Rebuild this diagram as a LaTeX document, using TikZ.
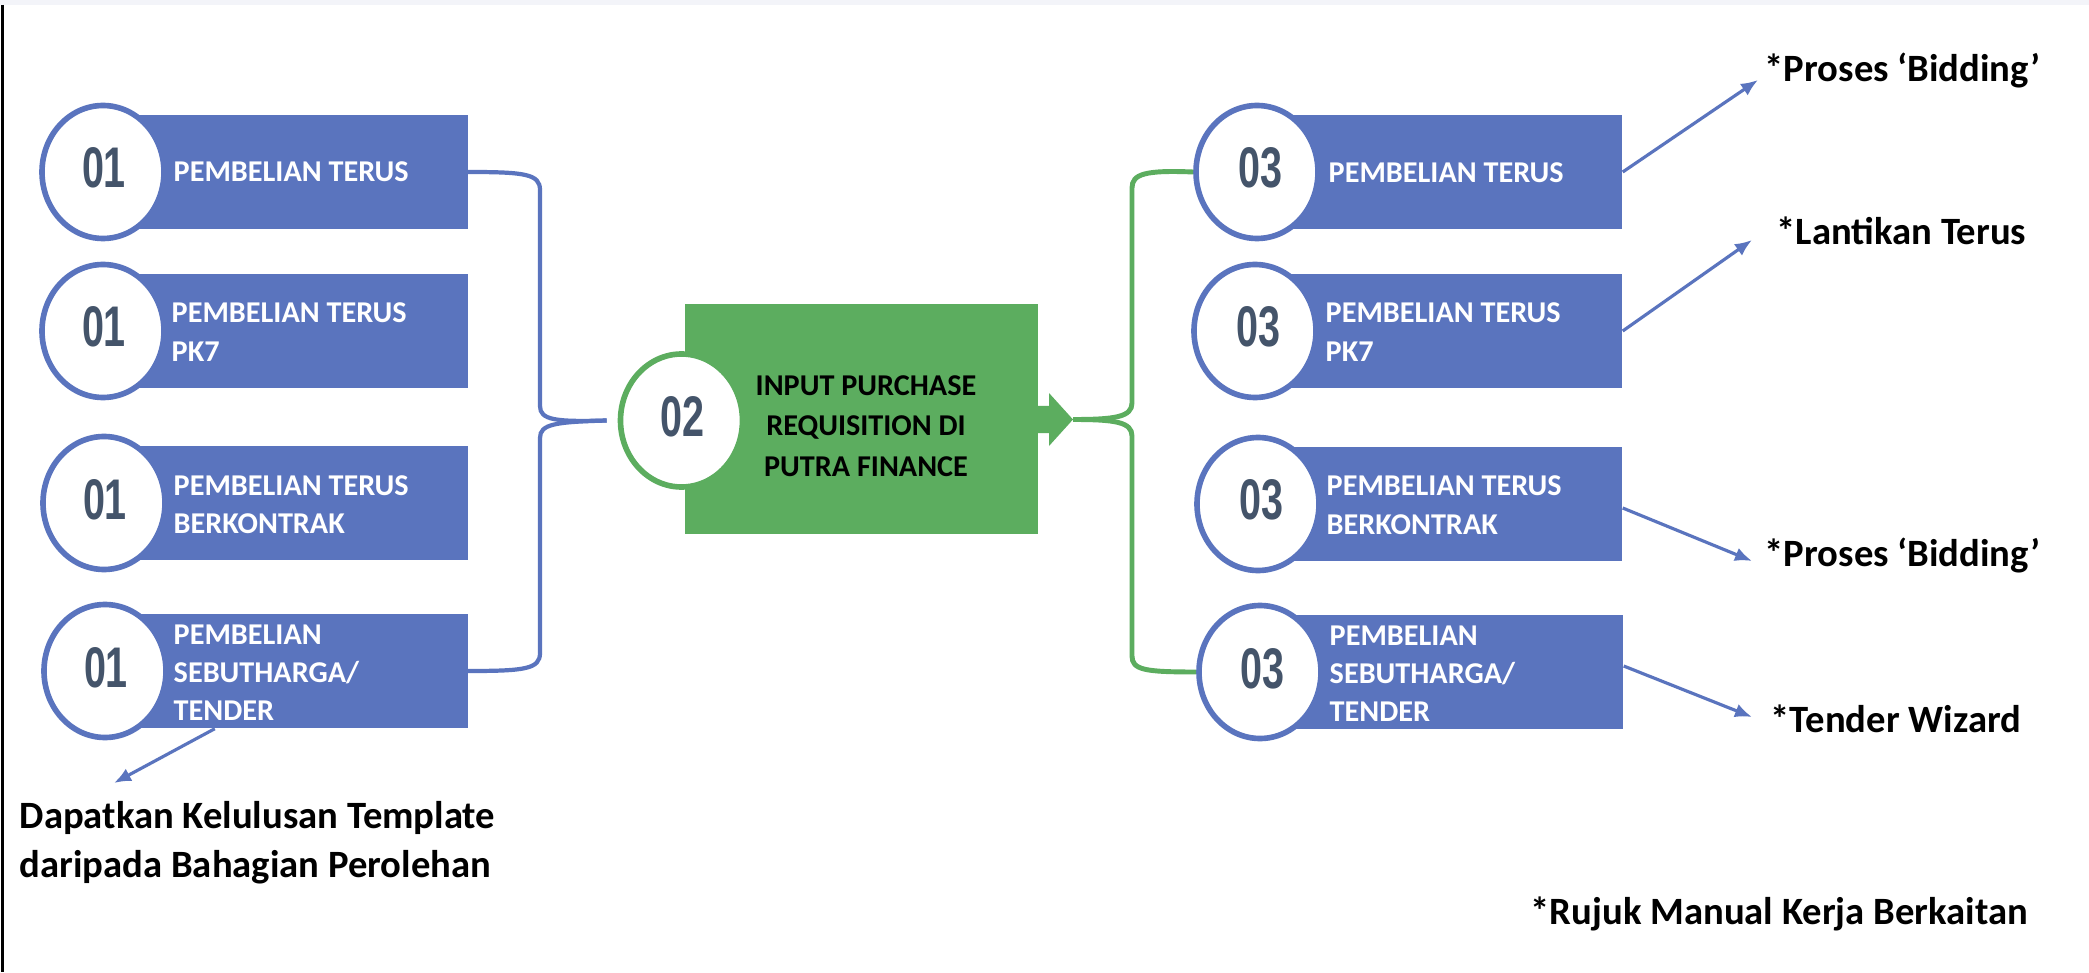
\documentclass[tikz,border=0pt]{standalone}
\usepackage{graphicx}
\usepackage{fontspec}
\setmainfont{Carlito}
\newfontfamily\digitfont{Liberation Sans}
\usetikzlibrary{shapes.geometric,arrows.meta}
\definecolor{boxblue}{RGB}{90,116,190}
\definecolor{boxgreen}{RGB}{92,173,95}
\definecolor{digitc}{RGB}{68,84,106}
\definecolor{stripgray}{RGB}{243,244,249}
\tikzset{
  bluebox/.style={fill=boxblue, draw=none, minimum width=3.64cm, minimum height=1.14cm, inner sep=0pt},
  numcirc/.style={ellipse, draw=#1, line width=1.6pt, fill=white, minimum width=1.22cm, minimum height=1.33cm, inner sep=0pt},
  digits/.style={font=\digitfont\bfseries\fontsize{16.3}{18}\selectfont, text=digitc, inner sep=0pt, anchor=base},
  boxtext/.style={font=\bfseries\fontsize{8.6}{10.95}\selectfont, text=white, inner sep=0pt, anchor=base west},
  greentext/.style={font=\bfseries\fontsize{8.6}{11.66}\selectfont, text=black, inner sep=0pt, anchor=base},
  notelabel/.style={font=\bfseries\fontsize{11}{14.2}\selectfont, text=black, inner sep=0pt, anchor=base west},
  notearrow/.style={draw=boxblue, line width=0.9pt, -{Latex[length=0.17cm,width=0.14cm]}},
  bracketblue/.style={draw=boxblue, line width=1.2pt},
  bracketgreen/.style={draw=boxgreen, line width=1.4pt},
}
\newcommand{\dg}[1]{\scalebox{0.69}[1]{#1}}
\begin{document}
\begin{tikzpicture}
\useasboundingbox (0,0) rectangle (20.89,9.72);
\fill[white] (0,0) rectangle (20.89,9.72);
\fill[stripgray] (0,9.67) rectangle (20.89,9.72);
\draw[black, line width=0.6pt] (0.025,9.67) -- (0.025,0);

% ---------- left column ----------
\node[bluebox] (lb1) at (2.855,8.00) {};
\node[bluebox] (lb2) at (2.855,6.41) {};
\node[bluebox] (lb3) at (2.855,4.69) {};
\node[bluebox] (lb4) at (2.855,3.01) {};
\node[numcirc=boxblue] (lc1) at (1.03,8.00) {};
\node[numcirc=boxblue] (lc2) at (1.03,6.41) {};
\node[numcirc=boxblue] (lc3) at (1.04,4.69) {};
\node[numcirc=boxblue] (lc4) at (1.05,3.01) {};
\node[digits] (ld1) at (1.04,7.84) {\dg{01}};
\node[digits] (ld2) at (1.04,6.25) {\dg{01}};
\node[digits] (ld3) at (1.05,4.53) {\dg{01}};
\node[digits] (ld4) at (1.06,2.85) {\dg{01}};
\node[boxtext] (lt1) at (1.73,7.90) {PEMBELIAN TERUS};
\node[boxtext] (lt2) at (1.71,6.49) {\begin{tabular}[t]{@{}l@{}}PEMBELIAN TERUS\\PK7\end{tabular}};
\node[boxtext] (lt3) at (1.73,4.77) {\begin{tabular}[t]{@{}l@{}}PEMBELIAN TERUS\\BERKONTRAK\end{tabular}};
\node[boxtext] (lt4) at (1.73,3.28) {\begin{tabular}[t]{@{}l@{}}PEMBELIAN\\SEBUTHARGA/\\TENDER\end{tabular}};

% ---------- centre ----------
\node[fill=boxgreen, draw=none, minimum width=3.53cm, minimum height=2.30cm, inner sep=0pt] (gbox) at (8.615,5.53) {};
\fill[boxgreen] (10.37,5.66) -- (10.49,5.66) -- (10.49,5.79) -- (10.73,5.525) -- (10.49,5.26) -- (10.49,5.39) -- (10.37,5.39) -- cycle;
\coordinate (gtip) at (10.73,5.525);
\node[numcirc=boxgreen] (c2) at (6.815,5.515) {};
\node[digits] (d2) at (6.82,5.35) {\dg{02}};
\node[greentext] (gt) at (8.66,5.77) {\begin{tabular}[t]{@{}c@{}}INPUT PURCHASE\\REQUISITION DI\\PUTRA FINANCE\end{tabular}};

% ---------- right column ----------
\node[bluebox] (rb1) at (14.40,8.00) {};
\node[bluebox] (rb2) at (14.40,6.41) {};
\node[bluebox] (rb3) at (14.40,4.68) {};
\node[bluebox] (rb4) at (14.41,3.00) {};
\node[numcirc=boxblue] (rc1) at (12.57,8.00) {};
\node[numcirc=boxblue] (rc2) at (12.55,6.41) {};
\node[numcirc=boxblue] (rc3) at (12.58,4.68) {};
\node[numcirc=boxblue] (rc4) at (12.60,3.00) {};
\node[digits] (rd1) at (12.60,7.84) {\dg{03}};
\node[digits] (rd2) at (12.58,6.25) {\dg{03}};
\node[digits] (rd3) at (12.61,4.52) {\dg{03}};
\node[digits] (rd4) at (12.62,2.84) {\dg{03}};
\node[boxtext] (rt1) at (13.28,7.89) {PEMBELIAN TERUS};
\node[boxtext] (rt2) at (13.25,6.49) {\begin{tabular}[t]{@{}l@{}}PEMBELIAN TERUS\\PK7\end{tabular}};
\node[boxtext] (rt3) at (13.26,4.76) {\begin{tabular}[t]{@{}l@{}}PEMBELIAN TERUS\\BERKONTRAK\end{tabular}};
\node[boxtext] (rt4) at (13.29,3.27) {\begin{tabular}[t]{@{}l@{}}PEMBELIAN\\SEBUTHARGA/\\TENDER\end{tabular}};

% ---------- braces ----------
\begin{scope}[on background layer/.try]
\end{scope}
\draw[bracketblue] (lb1.east) .. controls (5.25,8.00) and (5.40,7.98) .. (5.40,7.82) -- (5.40,5.66) .. controls (5.40,5.52) and (5.55,5.50) .. ([xshift=-0.11cm]c2.west);
\draw[bracketblue] (lb4.east) .. controls (5.25,3.01) and (5.40,3.03) .. (5.40,3.19) -- (5.40,5.34) .. controls (5.40,5.48) and (5.55,5.50) .. ([xshift=-0.11cm]c2.west);
\draw[bracketgreen] (gtip) .. controls (11.15,5.525) and (11.32,5.55) .. (11.32,5.69) -- (11.32,7.84) .. controls (11.32,7.98) and (11.45,8.02) .. (rc1.west);
\draw[bracketgreen] (gtip) .. controls (11.15,5.525) and (11.32,5.50) .. (11.32,5.36) -- (11.32,3.16) .. controls (11.32,3.02) and (11.45,3.00) .. (rc4.west);

% ---------- notes ----------
\node[notelabel] (n1) at (17.64,8.90) {*Proses ‘Bidding’};
\node[notelabel] (n2) at (17.76,7.27) {*Lantikan Terus};
\node[notelabel] (n3) at (17.64,4.05) {*Proses ‘Bidding’};
\node[notelabel] (n4) at (17.70,2.40) {*Tender Wizard};
\node[notelabel] (n5) at (15.30,0.48) {*Rujuk Manual Kerja Berkaitan};
\node[notelabel] (n6) at (0.19,1.44) {\begin{tabular}[t]{@{}l@{}}Dapatkan Kelulusan Template\\daripada Bahagian Perolehan\end{tabular}};

\coordinate (e1) at (17.58,8.92);
\coordinate (e2) at (17.52,7.32);
\coordinate (e3) at (17.52,4.11);
\coordinate (e4) at (17.52,2.55);
\coordinate (e6) at (1.14,1.89);
\draw[notearrow] (rb1.east) -- (e1);
\draw[notearrow] (rb2.east) -- (e2);
\draw[notearrow] ([yshift=-0.04cm]rb3.east) -- (e3);
\draw[notearrow] ([yshift=0.06cm]rb4.east) -- (e4);
\draw[notearrow] ([xshift=1.12cm]lb4.south west) -- (e6);
\end{tikzpicture}
\end{document}
